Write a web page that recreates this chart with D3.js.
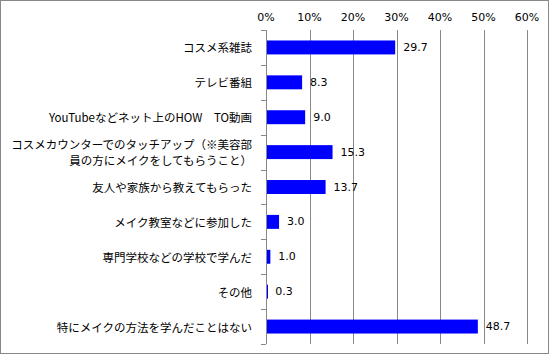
<!DOCTYPE html>
<html>
<head>
<meta charset="utf-8">
<script src="https://cdn.jsdelivr.net/npm/d3@7"></script>
<style>
  body { margin: 0; background: #fff; }
  svg { display: block; }
  text { font-family: "Noto Sans CJK JP", sans-serif; fill: #000; }
</style>
</head>
<body>
<div id="chart"></div>
<script>
// categories (multi-line labels split by \n)
const categories = [
    "コスメ系雑誌",
    "テレビ番組",
    "YouTubeなどネット上のHOW　TO動画",
    "コスメカウンターでのタッチアップ（※美容部\n員の方にメイクをしてもらうこと）",
    "友人や家族から教えてもらった",
    "メイク教室などに参加した",
    "専門学校などの学校で学んだ",
    "その他",
    "特にメイクの方法を学んだことはない"
];
const values = [29.7, 8.3, 9.0, 15.3, 13.7, 3.0, 1.0, 0.3, 48.7];
const xTicks = [0, 10, 20, 30, 40, 50, 60];

const W = 549, H = 354;
const margin = { top: 30, right: 22, bottom: 10, left: 266 };
const plotW = W - margin.left - margin.right;
const plotH = H - margin.top - margin.bottom;

const svg = d3.select("#chart").append("svg")
    .attr("width", W)
    .attr("height", H);

// outer frame
svg.append("rect")
    .attr("x", 0.5).attr("y", 0.5)
    .attr("width", W - 1).attr("height", H - 1)
    .attr("fill", "none")
    .attr("stroke", "#888");

const g = svg.append("g")
    .attr("transform", `translate(${margin.left}, ${margin.top})`);

const x = d3.scaleLinear().domain([0, 60]).range([0, plotW]);
const y = d3.scaleBand().domain(categories).range([0, plotH]).paddingInner(0.6).paddingOuter(0.3);
const yBand = d3.scaleBand().domain(categories).range([0, plotH]); // for tick marks

// vertical gridlines
g.selectAll("line.grid")
    .data(xTicks.slice(1))
    .enter()
    .append("line")
    .attr("x1", d => Math.round(x(d)) + 0.5)
    .attr("x2", d => Math.round(x(d)) + 0.5)
    .attr("y1", 0)
    .attr("y2", plotH)
    .attr("stroke", "#888");

// top axis labels
g.selectAll("text.xlab")
    .data(xTicks)
    .enter()
    .append("text")
    .attr("x", d => x(d))
    .attr("y", -13)
    .attr("text-anchor", "middle")
    .attr("dominant-baseline", "central")
    .style("font-size", "11px")
    .style("font-family", "Tahoma, 'DejaVu Sans', sans-serif")
    .text(d => d + "%");

// y axis line and ticks
g.append("line")
    .attr("x1", 0.5).attr("x2", 0.5)
    .attr("y1", 0).attr("y2", plotH)
    .attr("stroke", "#888");

const tickYs = categories.map(c => yBand(c)).concat([plotH]);
g.selectAll("line.ytick")
    .data(tickYs)
    .enter()
    .append("line")
    .attr("x1", -5).attr("x2", 0)
    .attr("y1", d => Math.round(d) + 0.5)
    .attr("y2", d => Math.round(d) + 0.5)
    .attr("stroke", "#888");

// bars
g.selectAll("rect.bar")
    .data(values)
    .enter()
    .append("rect")
    .attr("x", 1)
    .attr("y", (d, i) => y(categories[i]))
    .attr("width", d => Math.max(1, x(d) - 1))
    .attr("height", y.bandwidth())
    .attr("fill", "#0000ff");

// value labels
g.selectAll("text.val")
    .data(values)
    .enter()
    .append("text")
    .attr("x", d => x(d) + 8)
    .attr("y", (d, i) => y(categories[i]) + y.bandwidth() / 2)
    .attr("dominant-baseline", "central")
    .style("font-size", "11px")
    .style("font-family", "Tahoma, 'DejaVu Sans', sans-serif")
    .text(d => d.toFixed(1));

// category labels
const labels = g.selectAll("text.cat")
    .data(categories)
    .enter()
    .append("text")
    .attr("text-anchor", "end")
    .style("font-size", "11.5px")
    .attr("transform", d => `translate(-14, ${yBand(d) + yBand.bandwidth() / 2})`);

labels.each(function (d) {
    const lines = d.split("\n");
    const t = d3.select(this);
    const lh = 16.5;
    lines.forEach((ln, i) => {
        t.append("tspan")
            .attr("x", 0)
            .attr("y", (i - (lines.length - 1) / 2) * lh)
            .attr("dominant-baseline", "central")
            .text(ln);
    });
});
</script>
</body>
</html>
